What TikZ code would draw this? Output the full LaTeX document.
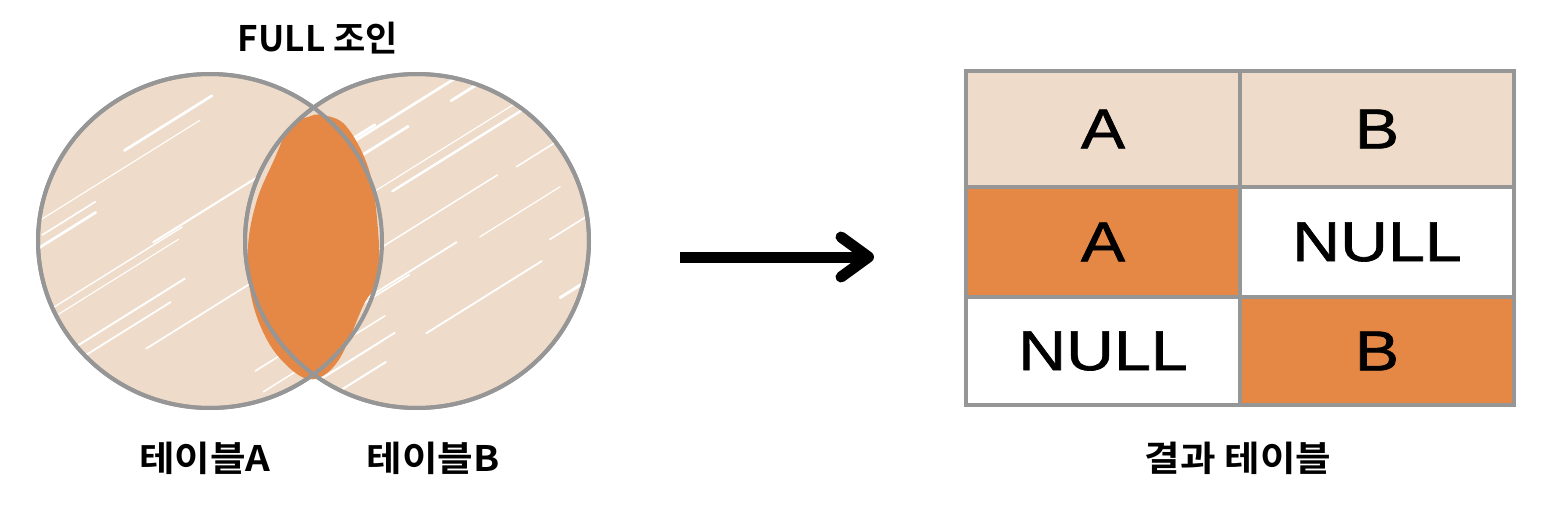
\documentclass[tikz,border=0pt]{standalone}
\usepackage{fontspec}
\usetikzlibrary{arrows.meta,shapes.geometric}
\newfontfamily\krfont{Noto Sans CJK KR Bold}
\newfontfamily\krwidefont[FakeStretch=1.1]{Noto Sans CJK KR Bold}
\newfontfamily\cellfont[FakeStretch=1.18,FakeBold=1.2]{Liberation Sans}
\definecolor{peach}{RGB}{239,219,201}
\definecolor{joinorange}{RGB}{229,135,69}
\definecolor{edgegray}{RGB}{150,150,150}
\tikzset{
    setshape/.style={ellipse,fill=peach,draw=edgegray,line width=0.08cm,
        minimum width=6.88cm,minimum height=6.68cm,inner sep=0pt},
    setedge/.style={edgegray,line width=0.08cm},
    cell/.style={draw=edgegray,line width=0.08cm,minimum width=5.48cm,
        inner sep=0pt,font=\cellfont\fontsize{32}{32}\selectfont},
    headcell/.style={cell,fill=peach,minimum height=2.32cm},
    hitcell/.style={cell,fill=joinorange},
    nullcell/.style={cell,fill=white},
    caption/.style={font=\krfont\fontsize{20}{24}\selectfont},
    setcaption/.style={font=\krwidefont\fontsize{20}{24}\selectfont},
    hatch/.style={white,line width=0.06cm,line cap=round},
    bigarrow/.style={line width=0.22cm,-{Straight Barb[length=0.55cm,width=0.8cm,round]}}
}

\begin{document}
\begin{tikzpicture}[x=0.02cm,y=-0.02cm]
    \useasboundingbox[fill=white] (0,0) rectangle (1566,504);
    % Sets
    \node[setshape] (circA) at (210,241) {};
    \node[setshape] (circB) at (417,241) {};
    % Sketchy strokes
    \begin{scope}
        \clip (circA.center) ellipse[x radius=170,y radius=165]
              (circB.center) ellipse[x radius=170,y radius=165];
        \pgfmathsetseed{23}
        \foreach \i in {1,...,30}{
            \pgfmathsetmacro\hx{30+560*rnd}
            \pgfmathsetmacro\hy{100+320*rnd}
            \pgfmathsetmacro\hl{60+140*rnd}
            \draw[hatch,line width={0.02cm+0.04cm*rnd}] (\hx,\hy) -- ++({\hl*cos(32)},{-\hl*sin(32)});
        }
    \end{scope}
    % Intersection
    \fill[joinorange] plot[smooth cycle,tension=0.6] coordinates {
        (308,117) (290,126) (274,160) (257,200) (248,247) (252,300) (270,345)
        (297,374) (318,378) (340,358) (364,304) (378,280) (378,230) (369,170)
        (346,126) (322,115)};
    \draw[setedge] (circA.center) ellipse[x radius=172,y radius=167];
    \draw[setedge] (circB.center) ellipse[x radius=172,y radius=167];
    % Labels
    \node[caption] (titlejoin) at (318,38) {FULL 조인};
    \node[setcaption] (labelA) at (205,458) {테이블A};
    \node[setcaption] (labelB) at (433,458) {테이블B};
    % Arrow
    \coordinate (arrowtail) at (680,257);
    \coordinate (arrowhead) at (874,257);
    \draw[bigarrow] (arrowtail) -- (arrowhead);
    % Result table
    \node[headcell] (headA) at (1103,129) {A};
    \node[headcell] (headB) at (1377,129) {B};
    \node[hitcell,minimum height=2.2cm]  (rowAa) at (1103,242) {A};
    \node[nullcell,minimum height=2.2cm] (rowAb) at (1377,242) {NULL};
    \node[nullcell,minimum height=2.16cm] (rowBa) at (1103,351) {NULL};
    \node[hitcell,minimum height=2.16cm]  (rowBb) at (1377,351) {B};
    \node[setcaption] (labelres) at (1238,458) {결과 테이블};
\end{tikzpicture}
\end{document}
